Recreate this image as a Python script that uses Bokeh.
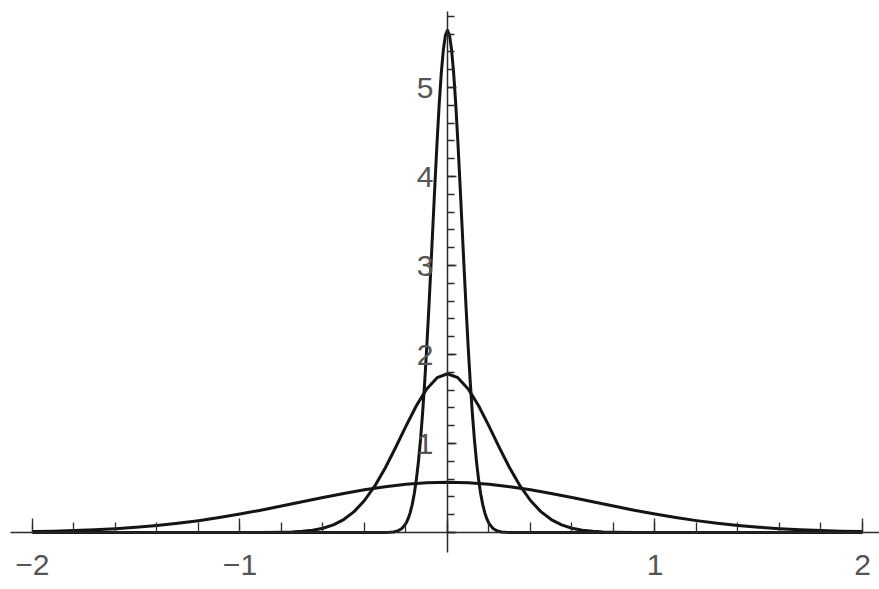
from bokeh.plotting import figure
from bokeh.models import Range1d, LinearAxis, FixedTicker
from bokeh.embed import file_html
from bokeh.resources import INLINE

# Three bell curves sampled along x (wide, medium, narrow)
wide_x = [-2.0, -1.9, -1.8, -1.7, -1.6, -1.5, -1.4, -1.3, -1.2, -1.1, -1.0,
          -0.9, -0.8, -0.7, -0.6, -0.5, -0.4, -0.3, -0.2, -0.1, 0.0,
          0.1, 0.2, 0.3, 0.4, 0.5, 0.6, 0.7, 0.8, 0.9, 1.0,
          1.1, 1.2, 1.3, 1.4, 1.5, 1.6, 1.7, 1.8, 1.9, 2.0]
wide_y = [0.0103, 0.0153, 0.0221, 0.0314, 0.0436, 0.0595, 0.0795, 0.1041, 0.1337, 0.1682, 0.2076,
          0.2510, 0.2975, 0.3457, 0.3936, 0.4394, 0.4808, 0.5157, 0.5421, 0.5586, 0.5642,
          0.5586, 0.5421, 0.5157, 0.4808, 0.4394, 0.3936, 0.3457, 0.2975, 0.2510, 0.2076,
          0.1682, 0.1337, 0.1041, 0.0795, 0.0595, 0.0436, 0.0314, 0.0221, 0.0153, 0.0103]

mid_x = [-2.0, -1.0, -0.9, -0.8, -0.75, -0.7, -0.65, -0.6, -0.55, -0.5, -0.45, -0.4,
         -0.35, -0.3, -0.25, -0.2, -0.15, -0.1, -0.05, 0.0,
         0.05, 0.1, 0.15, 0.2, 0.25, 0.3, 0.35, 0.4, 0.45, 0.5, 0.55, 0.6,
         0.65, 0.7, 0.75, 0.8, 0.9, 1.0, 2.0]
mid_y = [0.0, 0.0001, 0.0005, 0.0030, 0.0064, 0.0133, 0.0261, 0.0487, 0.0866, 0.146, 0.235, 0.360,
         0.524, 0.725, 0.955, 1.196, 1.425, 1.614, 1.740, 1.784,
         1.740, 1.614, 1.425, 1.196, 0.955, 0.725, 0.524, 0.360, 0.235, 0.146, 0.0866, 0.0487,
         0.0261, 0.0133, 0.0064, 0.0030, 0.0005, 0.0001, 0.0]

narrow_x = [-2.0, -0.30, -0.28, -0.26, -0.24, -0.22, -0.20, -0.19, -0.18, -0.17, -0.16,
            -0.15, -0.14, -0.13, -0.12, -0.11, -0.10, -0.09, -0.08, -0.07, -0.06,
            -0.05, -0.04, -0.03, -0.02, -0.01, 0.0,
            0.01, 0.02, 0.03, 0.04, 0.05, 0.06, 0.07, 0.08, 0.09, 0.10,
            0.11, 0.12, 0.13, 0.14, 0.15, 0.16, 0.17, 0.18, 0.19, 0.20,
            0.22, 0.24, 0.26, 0.28, 0.30, 2.0]
narrow_y = [0.0, 0.0007, 0.0022, 0.0065, 0.0178, 0.0446, 0.103, 0.153, 0.221, 0.314, 0.436,
            0.595, 0.795, 1.041, 1.337, 1.682, 2.076, 2.510, 2.975, 3.456, 3.936,
            4.394, 4.808, 5.156, 5.421, 5.586, 5.642,
            5.586, 5.421, 5.156, 4.808, 4.394, 3.936, 3.456, 2.975, 2.510, 2.076,
            1.682, 1.337, 1.041, 0.795, 0.595, 0.436, 0.314, 0.221, 0.153, 0.103,
            0.0446, 0.0178, 0.0065, 0.0022, 0.0007, 0.0]

# Axis ticks and labels
x_major = [-2, -1, 0, 1, 2]
x_minor = [round(-2.0 + 0.2 * i, 1) for i in range(21)]
x_labels = {-2: "\u22122", -1: "\u22121", 0: "", 1: "1", 2: "2"}
y_major = [0, 1, 2, 3, 4, 5]
y_minor = [round(0.2 * i, 1) for i in range(30)]
y_labels = {0: "", 1: "1", 2: "2", 3: "3", 4: "4", 5: "5"}

p = figure(width=879, height=589, output_backend="svg", toolbar_location=None,
           x_range=Range1d(-2.154, 2.082), y_range=Range1d(-0.640, 5.978),
           x_axis_type=None, y_axis_type=None, min_border=0)
p.outline_line_color = None
p.background_fill_color = "white"
p.border_fill_color = "white"

curve_color = "#141414"
for xs, ys in [(wide_x, wide_y), (mid_x, mid_y), (narrow_x, narrow_y)]:
    p.line(xs, ys, line_color=curve_color, line_width=3, line_join="round")

label_font = "Liberation Sans"
label_color = "#555555"
axis_color = "#2a2a2a"

xaxis = LinearAxis(fixed_location=0, bounds=(-2.107, 2.085),
                   ticker=FixedTicker(ticks=x_major, minor_ticks=x_minor))
xaxis.major_label_overrides = x_labels
xaxis.axis_line_color = axis_color
xaxis.axis_line_width = 1.5
xaxis.major_tick_line_color = axis_color
xaxis.minor_tick_line_color = axis_color
xaxis.major_tick_line_width = 1.3
xaxis.minor_tick_line_width = 1.3
xaxis.major_tick_in = 14
xaxis.major_tick_out = 0
xaxis.minor_tick_in = 10
xaxis.minor_tick_out = 0
xaxis.major_label_standoff = 22
xaxis.major_label_text_font = label_font
xaxis.major_label_text_font_size = "30px"
xaxis.major_label_text_color = label_color
p.add_layout(xaxis, "below")

yaxis = LinearAxis(fixed_location=0, bounds=(-0.22, 5.85),
                   ticker=FixedTicker(ticks=y_major, minor_ticks=y_minor))
yaxis.major_label_overrides = y_labels
yaxis.axis_line_color = axis_color
yaxis.axis_line_width = 1.5
yaxis.major_tick_line_color = axis_color
yaxis.minor_tick_line_color = axis_color
yaxis.major_tick_line_width = 1.3
yaxis.minor_tick_line_width = 1.3
yaxis.major_tick_in = 9
yaxis.major_tick_out = 0
yaxis.minor_tick_in = 7
yaxis.minor_tick_out = 0
yaxis.major_label_standoff = 14
yaxis.major_label_text_font = label_font
yaxis.major_label_text_font_size = "30px"
yaxis.major_label_text_color = label_color
p.add_layout(yaxis, "left")

open("out.html", "w").write(file_html(p, INLINE))
